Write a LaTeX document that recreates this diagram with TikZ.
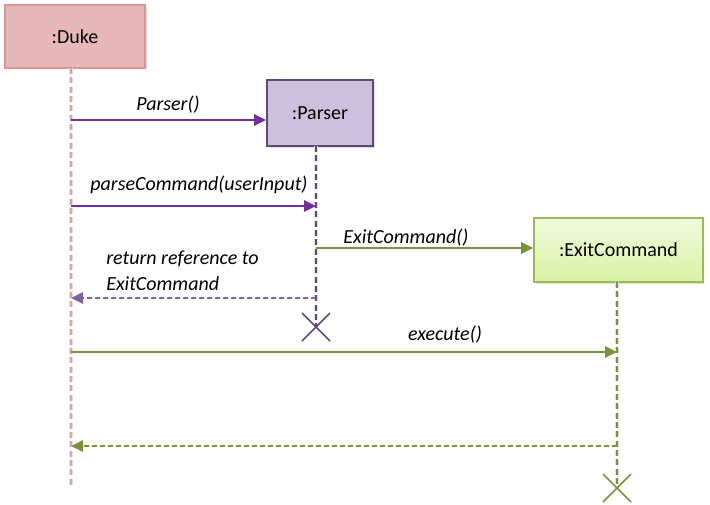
\documentclass[tikz,border=0pt]{standalone}
\usepackage{fontspec}
\setmainfont{Carlito}
\usetikzlibrary{arrows.meta,shadows}
\definecolor{dukefill}{HTML}{E6B9B8}
\definecolor{dukedraw}{HTML}{D99694}
\definecolor{parfill}{HTML}{CCC1DA}
\definecolor{pardraw}{HTML}{5F497A}
\definecolor{exfillA}{HTML}{F2FADF}
\definecolor{exfillB}{HTML}{D7F2A2}
\definecolor{exdraw}{HTML}{9BBB59}
\definecolor{purp}{HTML}{7030A0}
\definecolor{purpret}{HTML}{8064A2}
\definecolor{olive}{HTML}{77933C}
\definecolor{pinkline}{HTML}{E6A0A0}
\tikzset{
  x=0.75pt, y=-0.75pt,
  objbox/.style={draw, line width=1.4pt, inner sep=0pt, font=\fontsize{15}{18}\selectfont,
    drop shadow={shadow xshift=1.2pt, shadow yshift=-1.2pt, fill=black!25, opacity=0.5}},
  lifeline/.style={line width=1.5pt, dash pattern=on 4.5pt off 2.5pt},
  msg/.style={line width=1.3pt, -{Triangle[length=9pt,width=8.5pt]}},
  ret/.style={line width=1.3pt, dash pattern=on 4pt off 2pt, -{Triangle[length=9pt,width=8.5pt]}},
  lbl/.style={font=\fontsize{15}{19}\selectfont\itshape, inner sep=0pt},
  killx/.style={line width=1.1pt},
}
\begin{document}
\begin{tikzpicture}
\useasboundingbox (0,0) rectangle (710,504);
% objects
\node[objbox, fill=dukefill, draw=dukedraw, minimum width=105pt, minimum height=47pt] (duke) at (75,36.5) {:Duke};
\node[objbox, fill=parfill, draw=pardraw, minimum width=79.5pt, minimum height=49.5pt] (parser) at (320,113) {:Parser};
\node[objbox, top color=exfillA, bottom color=exfillB, draw=exdraw, minimum width=126.5pt, minimum height=48pt] (exit) at (618.5,250) {:ExitCommand};
% lifeline coordinates
\coordinate (dukeend) at (71,488);
\coordinate (parend) at (316,327);
\coordinate (exend) at (617,488);
\coordinate (d1) at (71,120);
\coordinate (d2) at (71,206);
\coordinate (d3) at (71,298);
\coordinate (d4) at (71,352);
\coordinate (d5) at (71,446);
\coordinate (p2) at (316,206);
\coordinate (p3) at (316,248);
\coordinate (p4) at (316,298);
\coordinate (e4) at (617,352);
\coordinate (e5) at (617,446);
% lifelines
\draw[lifeline, draw=black!12, line width=3.5pt] (71,68) -- (dukeend);
\draw[lifeline, draw=black!12, line width=3.5pt] (316,146) -- (parend);
\draw[lifeline, draw=black!12, line width=3.5pt] (617,282) -- (exend);
\draw[lifeline, draw=pinkline] (71,68) -- (dukeend);
\draw[lifeline, draw=pardraw] (316,146) -- (parend);
\draw[lifeline, draw=olive] (617,282) -- (exend);
% messages
\draw[msg, draw=purp, fill=purp] (d1) -- (parser.west |- d1);
\node[lbl] (l1) at (168,105) {Parser()};
\draw[msg, draw=purp, fill=purp] (d2) -- (p2);
\node[lbl] (l2) at (199,185) {parseCommand(userInput)};
\draw[msg, draw=olive, fill=olive] (p3) -- (exit.west |- p3);
\node[lbl] (l3) at (406,238) {ExitCommand()};
\draw[ret, draw=purpret, fill=purpret] (p4) -- (d3);
\node[lbl, anchor=west] (l4a) at (106,259) {return reference to};
\node[lbl, anchor=west] (l4b) at (106,284) {ExitCommand};
\draw[msg, draw=olive, fill=olive] (d4) -- (e4);
\node[lbl] (l5) at (445,335) {execute()};
\draw[ret, draw=olive, fill=olive] (e5) -- (d5);
% destruction marks
\draw[killx, draw=pardraw] (parend) ++(-14,-14) -- ++(28,28) (parend) ++(14,-14) -- ++(-28,28);
\draw[killx, draw=olive] (exend) ++(-14,-14) -- ++(28,28) (exend) ++(14,-14) -- ++(-28,28);
\end{tikzpicture}
\end{document}
